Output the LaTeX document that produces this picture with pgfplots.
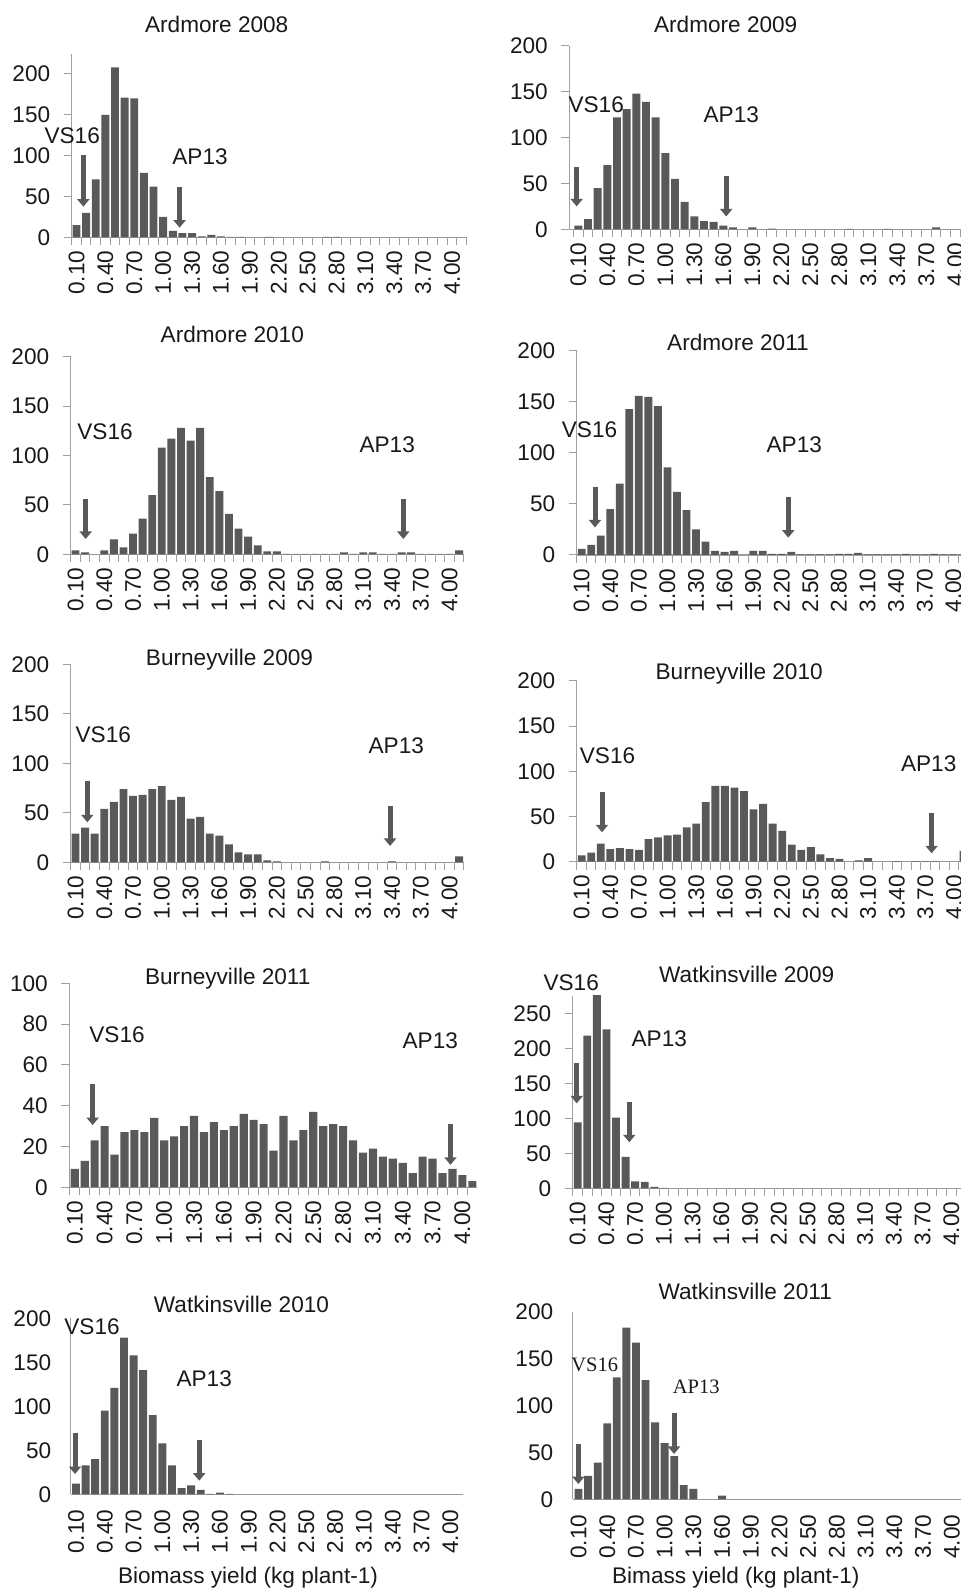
\documentclass[border=0pt]{standalone}
\usepackage{pgfplots}
\pgfplotsset{compat=1.18}
\usepackage{pgfplotstable}
\usepackage{fontspec}
\setmainfont{Liberation Sans}
\newfontfamily\seriffont{Liberation Serif}
\usetikzlibrary{arrows.meta}
\definecolor{barc}{RGB}{89,89,89}
\definecolor{axc}{RGB}{160,160,160}
\definecolor{txt}{RGB}{25,25,25}
\newcommand{\fs}{\fontsize{22.6}{26}\selectfont}

\pgfplotstableread{
i a08 a09 a10 a11 b09 b10 b11 w09 w10 w11
0 15 4 4 6 29 7 9 94 12 11
1 30 11 2 10 35 10 13 218 33 25
2 71 45 0 19 29 20 23 276 40 39
3 150 70 4 45 54 14 30 227 95 81
4 208 122 15 70 61 15 16 101 121 130
5 171 131 7 143 74 14 27 45 178 183
6 170 148 21 156 67 13 28 10 158 167
7 79 139 36 155 68 25 27 9 141 127
8 62 122 60 146 74 27 34 2 90 82
9 25 83 108 86 77 29 23 0.5 58 60
10 8 55 117 62 63 30 25 0 33 46
11 5 30 128 44 66 38 30 0 7 15
12 5 14 115 25 44 42 35 0 10 11
13 1 9 128 13 46 66 27 0 5 0
14 3 8 78 4 29 84 32 0 0.5 0
15 1 4 64 3 27 84 28 0 2 4
16 0.5 2 41 4 18 82 30 0 0.5 0
17 0.5 0 26 0 10 78 36 0 0 0
18 0 2 18 4 8 58 33 0 0 0
19 0 0 9 4 8 64 31 0 0 0
20 0.5 0.7 3 1 2 42 18 0 0 0
21 0 0 3 1 1 34 35 0 0 0
22 0 0 0.5 3 0 19 23 0 0 0
23 0 0 0.5 0.5 0 13 28 0 0 0
24 0 0 0.5 0.5 0 16 37 0 0 0
25 0 0 0.5 0.5 0 8 30 0 0 0
26 0.5 0 0.5 0.5 1 4 31 0 0 0
27 0.5 0 0.5 1 0 3 30 0 0 0
28 0 0.5 2 1 0 0 23 0 0 0
29 0 0 0.5 2 0 1.5 17 0 0 0
30 0 0 2 0.5 0 4 19 0 0 0
31 0 0 2 0.5 0 0 15 0 0 0
32 0 0.5 0.5 0.5 0 0 14 0 0 0
33 0 0 0.5 0.5 1 0.5 12 0 0 0
34 0 0 2 1 0 0 7 0 0 0
35 0 0 2 0.5 0 0.5 15 0 0 0
36 0 0 0.5 0.5 0 0.5 14 0 0 0
37 0 2 0.5 1 0 0.5 7 0 0 0
38 0 0 0.5 0.5 0 0 9 0 0 0
39 0 0 0.5 0.5 0 0 6 0 0 0
40 0 0 4 0.5 6 12 3 0 0 0
}\hist

\tikzset{
  arr/.style={draw=barc, line width=5pt, -{Triangle[width=12pt,length=7.5pt]}},
  bars/.style={fill=barc, draw=none},
  lab/.style={anchor=base, inner sep=0pt, font=\fs, text=txt},
}
\pgfplotsset{
  panel/.style={
    scale only axis, anchor=south west, clip=false,
    axis lines=left,
    axis line style={draw=axc, line width=1.1pt, -},
    ymin=0,
    xtick={0,3,...,39},
    xticklabels={0.10,0.40,0.70,1.00,1.30,1.60,1.90,2.20,2.50,2.80,3.10,3.40,3.70,4.00},
    minor xtick={-0.5,0.5,...,40.5},
    tick align=outside,
    major tick length=8pt, minor tick length=8pt,
    tick style={draw=axc, line width=1pt},
    major x tick style={draw=none},
    xticklabel style={rotate=90, anchor=east, font=\fs, text=txt},
    yticklabel style={font=\fs, text=txt},
    xticklabel shift=2pt, yticklabel shift=10pt,
    /pgf/number format/assume math mode=true,
    ybar, bar width=0.82, bar shift=0pt,
  },
  noticks/.style={major tick length=0pt, minor tick length=0pt, tick style={draw=none},
    xticklabel shift=12pt, yticklabel shift=16pt},
}

\begin{document}
\begin{tikzpicture}
\useasboundingbox (0,0) rectangle (961pt,1591pt);
\clip (0,0) rectangle (961pt,1591pt);

% Ardmore 2008
\begin{axis}[panel, at={(71.7pt,1353.7pt)}, width=395pt, height=183.7pt,
  xmin=-0.5, xmax=40.52, ymax=225, ytick={0,50,...,200}]
\addplot[bars] table[x=i, y=a08] {\hist};
\draw[arr] (axis cs:0.71,100.8) -- (axis cs:0.71,37.5);
\draw[arr] (axis cs:10.7,62) -- (axis cs:10.7,11.8);
\end{axis}

% Ardmore 2009
\begin{axis}[panel, at={(569.3pt,1361.7pt)}, width=400.6pt, height=183.3pt,
  xmin=-0.93, xmax=40.5, ymax=200, ytick={0,50,...,200}]
\addplot[bars] table[x=i, y=a09] {\hist};
\draw[arr] (axis cs:-0.17,68) -- (axis cs:-0.17,25);
\draw[arr] (axis cs:15.3,58) -- (axis cs:15.3,14);
\end{axis}

% Ardmore 2010
\begin{axis}[panel, at={(70.7pt,1036.7pt)}, width=393.6pt, height=197.6pt,
  xmin=-0.5, xmax=40.54, ymax=200, ytick={0,50,...,200}]
\addplot[bars] table[x=i, y=a10] {\hist};
\draw[arr] (axis cs:1.06,56) -- (axis cs:1.06,15.5);
\draw[arr] (axis cs:34.18,56) -- (axis cs:34.18,15.5);
\end{axis}

% Ardmore 2011
\begin{axis}[panel, at={(576.7pt,1036pt)}, width=390.9pt, height=204pt,
  xmin=-0.52, xmax=40.5, ymax=200, ytick={0,50,...,200}]
\addplot[bars] table[x=i, y=a11] {\hist};
\draw[arr] (axis cs:1.40,67) -- (axis cs:1.40,27);
\draw[arr] (axis cs:21.68,56.6) -- (axis cs:21.68,17);
\end{axis}

% Burneyville 2009
\begin{axis}[panel, at={(70.7pt,728.7pt)}, width=393.6pt, height=198pt,
  xmin=-0.5, xmax=40.54, ymax=200, ytick={0,50,...,200}]
\addplot[bars] table[x=i, y=b09] {\hist};
\draw[arr] (axis cs:1.23,82.4) -- (axis cs:1.23,40.4);
\draw[arr] (axis cs:32.8,57) -- (axis cs:32.8,16.5);
\end{axis}

% Burneyville 2010
\begin{axis}[panel, at={(576.7pt,729.3pt)}, width=391.7pt, height=180.7pt,
  xmin=-0.52, xmax=40.5, ymax=200, ytick={0,50,...,200}]
\addplot[bars] table[x=i, y=b10] {\hist};
\draw[arr] (axis cs:2.13,76.8) -- (axis cs:2.13,32.5);
\draw[arr] (axis cs:36.65,53.6) -- (axis cs:36.65,9.3);
\end{axis}

% Burneyville 2011
\begin{axis}[panel, at={(69.3pt,403.7pt)}, width=407.3pt, height=204pt,
  xmin=-0.55, xmax=40.43, ymax=100, ytick={0,20,...,100}]
\addplot[bars] table[x=i, y=b11] {\hist};
\draw[arr] (axis cs:1.8,50.5) -- (axis cs:1.8,30.5);
\draw[arr] (axis cs:37.8,31) -- (axis cs:37.8,11);
\end{axis}

% Watkinsville 2009
\begin{axis}[panel, at={(572.7pt,402.7pt)}, width=393pt, height=192.5pt,
  xmin=-0.52, xmax=40.5, ymax=275, ytick={0,50,...,250}]
\addplot[bars] table[x=i, y=w09] {\hist};
\draw[arr] (axis cs:-0.1,178.6) -- (axis cs:-0.1,121.4);
\draw[arr] (axis cs:5.39,123.8) -- (axis cs:5.39,65.7);
\end{axis}

% Watkinsville 2010
\begin{axis}[panel, noticks, at={(70.7pt,96.7pt)}, width=392.5pt, height=176pt,
  xmin=-0.55, xmax=40.34, ymax=200, ytick={0,50,...,200}]
\addplot[bars] table[x=i, y=w10] {\hist};
\draw[arr] (axis cs:-0.1,70) -- (axis cs:-0.1,23);
\draw[arr] (axis cs:12.84,61.7) -- (axis cs:12.84,15.5);
\end{axis}

% Watkinsville 2011
\begin{axis}[panel, noticks, at={(572.7pt,91.7pt)}, width=393.4pt, height=187.6pt,
  xmin=-0.61, xmax=40.5, ymax=200, ytick={0,50,...,200}]
\addplot[bars] table[x=i, y=w11] {\hist};
\draw[arr] (axis cs:-0.02,58.6) -- (axis cs:-0.02,16.3);
\draw[arr] (axis cs:9.98,91.7) -- (axis cs:9.98,48.3);
\end{axis}

% titles
\node[lab] at (216.7pt,1558.5pt) {Ardmore 2008};
\node[lab] at (725.7pt,1558pt) {Ardmore 2009};
\node[lab] at (232.3pt,1248pt) {Ardmore 2010};
\node[lab] at (738pt,1240.5pt) {Ardmore 2011};
\node[lab] at (229.5pt,925.2pt) {Burneyville 2009};
\node[lab] at (739.2pt,911.7pt) {Burneyville 2010};
\node[lab] at (227.8pt,606.7pt) {Burneyville 2011};
\node[lab] at (746.7pt,608.3pt) {Watkinsville 2009};
\node[lab] at (241.5pt,278.3pt) {Watkinsville 2010};
\node[lab] at (745.2pt,291.7pt) {Watkinsville 2011};
% genotype labels
\node[lab] at (72.2pt,1447.8pt) {VS16};
\node[lab] at (200pt,1426.8pt) {AP13};
\node[lab] at (596.2pt,1478.3pt) {VS16};
\node[lab] at (731.3pt,1468.8pt) {AP13};
\node[lab] at (105pt,1151.3pt) {VS16};
\node[lab] at (387.2pt,1138.5pt) {AP13};
\node[lab] at (589.5pt,1153.8pt) {VS16};
\node[lab] at (794.3pt,1138.5pt) {AP13};
\node[lab] at (103.3pt,848.3pt) {VS16};
\node[lab] at (396.3pt,837.7pt) {AP13};
\node[lab] at (607.5pt,827.2pt) {VS16};
\node[lab] at (928.7pt,819.3pt) {AP13};
\node[lab] at (117pt,548pt) {VS16};
\node[lab] at (430.3pt,542.7pt) {AP13};
\node[lab] at (571.2pt,600pt) {VS16};
\node[lab] at (659.3pt,544.3pt) {AP13};
\node[lab] at (92pt,256.8pt) {VS16};
\node[lab] at (204.2pt,204.3pt) {AP13};
\node[lab, font=\seriffont\fontsize{20.5}{24}\selectfont] at (594.7pt,219.2pt) {VS16};
\node[lab, font=\seriffont\fontsize{20.5}{24}\selectfont] at (696.2pt,197pt) {AP13};
% x labels
\node[lab] at (248pt,7pt) {Biomass yield (kg plant-1)};
\node[lab] at (735.8pt,7pt) {Bimass yield (kg plant-1)};
\end{tikzpicture}
\end{document}
